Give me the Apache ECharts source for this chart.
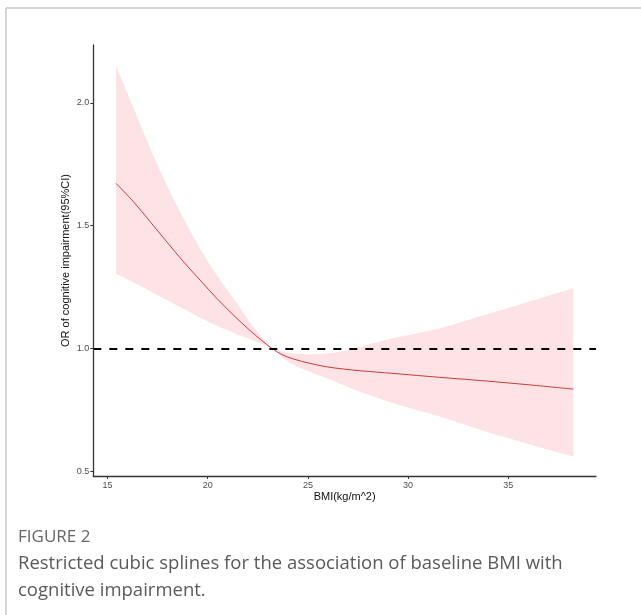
<!DOCTYPE html>
<html><head><meta charset="utf-8">
<script src="https://cdn.jsdelivr.net/npm/echarts@6/dist/echarts.min.js"></script>
<style>html,body{margin:0;padding:0;background:#fff;}#chart{width:641px;height:615px;}</style>
</head><body><div id="chart"></div>
<script>
// ---- data ----
const bmi       = [15.43, 16.3, 17.13, 17.96, 18.79, 19.62, 20.45, 21.28, 22.11, 22.7, 23.2, 23.7, 24.27, 25.1, 25.93, 26.76, 27.59, 29.25, 31.58, 33.9, 36.1, 38.25];
const orValues  = [1.672, 1.597, 1.516, 1.434, 1.353, 1.278, 1.204, 1.136, 1.073, 1.032, 1.0, 0.975, 0.957, 0.939, 0.925, 0.916, 0.909, 0.898, 0.882, 0.867, 0.851, 0.834];
const upperCI   = [2.15, 1.979, 1.815, 1.665, 1.53, 1.407, 1.299, 1.204, 1.106, 1.045, 1.0, 0.987, 0.979, 0.976, 0.979, 0.988, 1.006, 1.041, 1.082, 1.138, 1.192, 1.245];
const lowerCI   = [1.303, 1.268, 1.232, 1.196, 1.16, 1.125, 1.092, 1.063, 1.037, 1.017, 1.0, 0.963, 0.932, 0.904, 0.878, 0.85, 0.823, 0.776, 0.721, 0.66, 0.607, 0.558];
const refValue  = 1;
const xTicks    = [15, 20, 25, 30, 35];
const yTicks    = [0.5, 1.0, 1.5, 2.0];
const xTitle    = 'BMI(kg/m^2)';
const yTitle    = 'OR of cognitive impairment(95%CI)';
const figLabel  = 'FIGURE 2';
const captionLines = ['Restricted cubic splines for the association of baseline BMI with', 'cognitive impairment.'];

// ---- build series data ----
const upperData = bmi.map((x, i) => [x, upperCI[i]]);
const lowerData = bmi.map((x, i) => [x, lowerCI[i]]);
const lineData  = bmi.map((x, i) => [x, orValues[i]]);

const chart = echarts.init(document.getElementById('chart'), null, {renderer: 'canvas'});
const axisFont = 'Liberation Sans, Arial, sans-serif';
const SMOOTH = 0.35;
// white mask below the lower CI bound (drawn twice with small shadows to hide edge seams)
const maskSeries = (dx) => ({
  type: 'line', data: lowerData, symbol: 'none', smooth: SMOOTH,
  lineStyle: {width: 0, opacity: 0},
  areaStyle: {color: '#ffffff', opacity: 1, origin: 'start', shadowColor: '#ffffff', shadowBlur: 0, shadowOffsetX: dx, shadowOffsetY: dx > 0 ? 1 : 0},
  silent: true, z: 1
});
const option = {
  animation: false,
  backgroundColor: '#fff',
  grid: {left: 93.3, right: 45, top: 45, bottom: 139, containLabel: false},
  xAxis: {
    type: 'value', min: 14.29, max: 39.38, z: 10,
    name: xTitle, nameLocation: 'middle', nameGap: 15, nameMoveOverlap: false,
    nameTextStyle: {color: '#111', fontSize: 11, fontFamily: axisFont},
    axisLine: {onZero: false, lineStyle: {color: '#333', width: 1.3}},
    axisTick: {customValues: xTicks, length: 3, lineStyle: {color: '#333', width: 1}},
    axisLabel: {customValues: xTicks, color: '#4d4d4d', fontSize: 9, margin: 5, fontFamily: axisFont},
    splitLine: {show: false}
  },
  yAxis: {
    type: 'value', min: 0.48, max: 2.236, z: 10,
    name: yTitle, nameLocation: 'middle', nameGap: 22, nameRotate: 90, nameMoveOverlap: false,
    nameTextStyle: {color: '#111', fontSize: 11, fontFamily: axisFont},
    axisLine: {onZero: false, show: true, lineStyle: {color: '#333', width: 1.3}},
    axisTick: {show: true, customValues: yTicks, length: 3, lineStyle: {color: '#333', width: 1}},
    axisLabel: {customValues: yTicks, color: '#4d4d4d', fontSize: 9, margin: 4, fontFamily: axisFont,
                formatter: v => Number(v).toFixed(1)},
    splitLine: {show: false}
  },
  series: [
    {type: 'line', data: upperData, symbol: 'none', smooth: SMOOTH,
     lineStyle: {width: 0, opacity: 0}, areaStyle: {color: '#fde3e5', opacity: 1, origin: 'start'}, silent: true, z: 1},
    maskSeries(-1.5),
    maskSeries(1.5),
    {type: 'line', data: lineData, symbol: 'none', smooth: SMOOTH,
     lineStyle: {color: '#cc3a3a', width: 1}, z: 3,
     markLine: {silent: true, symbol: 'none', label: {show: false}, z: 4,
       lineStyle: {color: '#000', width: 2, type: [8, 8]},
       data: [{yAxis: refValue}]}}
  ],
  graphic: [
    {type: 'line', shape: {x1: 6, y1: 8, x2: 641, y2: 8}, style: {stroke: '#c8c8c8', lineWidth: 1.5}, silent: true},
    {type: 'line', shape: {x1: 6, y1: 8, x2: 6, y2: 615}, style: {stroke: '#c8c8c8', lineWidth: 1.5}, silent: true},
    {type: 'text', x: 18, y: 537, style: {text: figLabel, fill: '#666', font: '17px "Open Sans", sans-serif', align: 'left', verticalAlign: 'middle'}, silent: true},
    {type: 'text', x: 18, y: 564, style: {text: captionLines[0], fill: '#5a5a5a', font: '18.5px "Open Sans", sans-serif', align: 'left', verticalAlign: 'middle'}, silent: true},
    {type: 'text', x: 18, y: 591, style: {text: captionLines[1], fill: '#5a5a5a', font: '18.5px "Open Sans", sans-serif', align: 'left', verticalAlign: 'middle'}, silent: true}
  ]
};
chart.setOption(option);
</script>
</body></html>
